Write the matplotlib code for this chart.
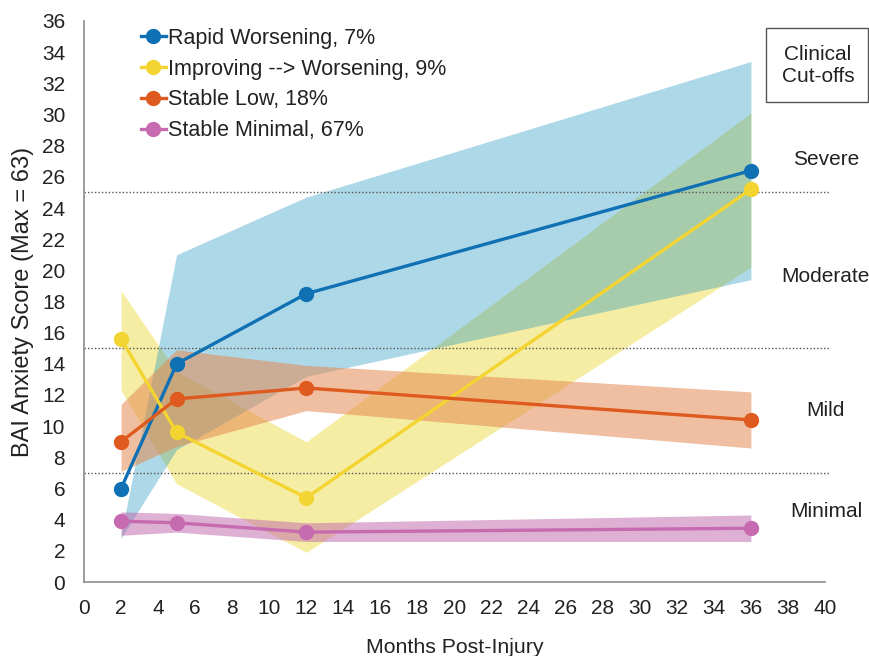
import matplotlib
matplotlib.use("Agg")
import matplotlib.pyplot as plt
from matplotlib.patches import Rectangle
from matplotlib.lines import Line2D

plt.rcParams['font.family'] = ['Liberation Sans', 'DejaVu Sans']

months = [2, 5, 12, 36]

labels = ["Rapid Worsening, 7%", "Improving --> Worsening, 9%",
          "Stable Low, 18%", "Stable Minimal, 67%"]

rapid = [6.0, 14.0, 18.5, 26.4]
rapid_lo = [2.8, 8.5, 13.2, 19.4]
rapid_hi = [3.0, 21.0, 24.7, 33.4]

improving = [15.6, 9.6, 5.4, 25.2]
improving_lo = [12.3, 6.3, 1.9, 20.2]
improving_hi = [18.7, 13.5, 9.0, 30.1]

stable_low = [9.0, 11.75, 12.45, 10.4]
stable_low_lo = [7.1, 8.7, 11.0, 8.6]
stable_low_hi = [11.4, 14.9, 13.9, 12.2]

minimal = [3.9, 3.8, 3.2, 3.45]
minimal_lo = [3.0, 3.2, 2.6, 2.6]
minimal_hi = [4.5, 4.4, 3.8, 4.3]

cutoffs = [25, 15, 7]
cutoff_labels = ["Severe", "Moderate", "Mild", "Minimal"]
cutoff_label_y = [27.1, 19.6, 11.0, 4.5]

line_colors = ["#0f71b4", "#f3d431", "#df5a1e", "#c76bb0"]
band_colors = ["#1590bd", "#efdd4b", "#e48952", "#be64aa"]
band_alpha = [0.35, 0.5, 0.55, 0.5]
band_z = [1.2, 1.1, 1.3, 1.4]

series = [
    (rapid, rapid_lo, rapid_hi),
    (improving, improving_lo, improving_hi),
    (stable_low, stable_low_lo, stable_low_hi),
    (minimal, minimal_lo, minimal_hi),
]

fig = plt.figure(figsize=(8.7, 6.56), dpi=100)
ax = fig.add_axes([84 / 870, 1 - 582 / 656, (825 - 84) / 870, (582 - 21) / 656])

for (vals, lo, hi), bc, a, z in zip(series, band_colors, band_alpha, band_z):
    ax.fill_between(months, lo, hi, color=bc, alpha=a, linewidth=0, zorder=z)

for c in cutoffs:
    ax.plot([0, 40.2], [c, c], linestyle=(0, (1, 1.5)), color="#555555",
            linewidth=1.0, zorder=2, clip_on=False)

handles = []
for (vals, lo, hi), lc, lab in zip(series, line_colors, labels):
    ax.plot(months, vals, color=lc, linewidth=2.4, marker='o', markersize=10,
            zorder=3)
    handles.append(Line2D([0], [0], color=lc, linewidth=2.4, marker='o',
                          markersize=10, label=lab))

ax.set_xlim(0, 40)
ax.set_ylim(0, 36)
ax.set_xticks(range(0, 41, 2))
ax.set_yticks(range(0, 37, 2))
ax.tick_params(length=0, labelsize=15, colors="#222222")
ax.tick_params(axis='x', pad=12.5)
ax.tick_params(axis='y', pad=13.5)
for s in ['top', 'right']:
    ax.spines[s].set_visible(False)
for s in ['left', 'bottom']:
    ax.spines[s].set_color("#8c8c8c")
    ax.spines[s].set_linewidth(1.2)

ax.set_xlabel("Months Post-Injury", fontsize=15.3, color="#222222", labelpad=14)
ax.set_ylabel("BAI Anxiety Score (Max = 63)", fontsize=17, color="#222222",
              labelpad=6)

leg = fig.legend(handles=handles, loc='upper left',
                 bbox_to_anchor=(141 / 870, 1 - 28 / 656), frameon=False,
                 fontsize=15.5, handlelength=1.15, handletextpad=0.1,
                 labelspacing=0.45, borderpad=0, borderaxespad=0)
for t in leg.get_texts():
    t.set_color("#222222")

for lab, y in zip(cutoff_labels, cutoff_label_y):
    ax.text(40.05, y, lab, fontsize=15, ha='center', va='center',
            color="#222222", clip_on=False)

fig.patches.append(Rectangle((766 / 870, 1 - 102 / 656), 102 / 870, 74 / 656,
                             transform=fig.transFigure, fill=False,
                             edgecolor="#555555", linewidth=1.0))
fig.text(818 / 870, 1 - 65 / 656, "Clinical\nCut-offs", fontsize=15,
         ha='center', va='center', color="#222222", linespacing=1.2)

fig.savefig("out.png", dpi=100)
